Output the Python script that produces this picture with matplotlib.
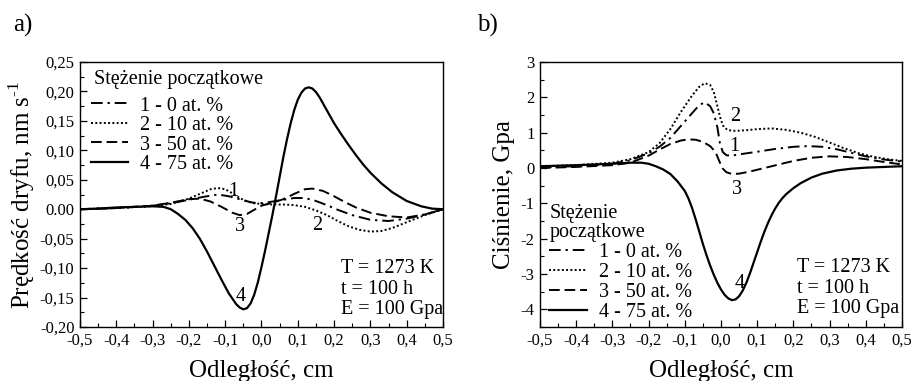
import matplotlib
matplotlib.use("Agg")
import matplotlib.pyplot as plt
from matplotlib.ticker import MultipleLocator

plt.rcParams['font.family'] = ['Liberation Serif', 'DejaVu Serif']
plt.rcParams['mathtext.fontset'] = 'custom'
plt.rcParams['mathtext.rm'] = 'Liberation Serif'

# ---------------- panel a) drift velocity, nm/s ----------------
xa1 = [-0.5, -0.4, -0.3, -0.25, -0.2, -0.16, -0.12, -0.09, -0.06, -0.03, -0.01,
       0.01, 0.03, 0.06, 0.09, 0.12, 0.15, 0.18, 0.21, 0.25, 0.3, 0.35, 0.4, 0.45, 0.5]
ya1 = [0.0, 0.002, 0.006, 0.010, 0.016, 0.021, 0.025, 0.022, 0.017, 0.012, 0.010,
       0.011, 0.013, 0.016, 0.019, 0.019, 0.014, 0.007, -0.001, -0.010, -0.018, -0.020, -0.016, -0.009, 0.0]

xa2 = [-0.5, -0.4, -0.3, -0.25, -0.2, -0.17, -0.14, -0.12, -0.1, -0.08, -0.06, -0.04, -0.02,
       0.0, 0.03, 0.06, 0.09, 0.12, 0.15, 0.18, 0.21, 0.24, 0.27, 0.3, 0.33, 0.36, 0.4, 0.45, 0.5]
ya2 = [0.0, 0.002, 0.005, 0.009, 0.018, 0.026, 0.034, 0.036, 0.034, 0.027, 0.019, 0.013, 0.010,
       0.009, 0.008, 0.008, 0.007, 0.004, -0.002, -0.010, -0.020, -0.029, -0.035, -0.038, -0.037,
       -0.032, -0.022, -0.010, 0.0]

xa3 = [-0.5, -0.4, -0.3, -0.25, -0.2, -0.17, -0.14, -0.11, -0.08, -0.06, -0.04, -0.02, 0.0,
       0.03, 0.06, 0.09, 0.12, 0.14, 0.17, 0.2, 0.23, 0.26, 0.3, 0.35, 0.4, 0.45, 0.5]
ya3 = [0.0, 0.002, 0.006, 0.011, 0.017, 0.018, 0.013, 0.004, -0.006, -0.010, -0.008, -0.001, 0.006,
       0.011, 0.017, 0.026, 0.034, 0.035, 0.031, 0.022, 0.012, 0.003, -0.006, -0.012, -0.014, -0.009, 0.0]

xa4 = [-0.5, -0.45, -0.4, -0.35, -0.3, -0.27, -0.25, -0.23, -0.21, -0.19, -0.17, -0.15, -0.13,
       -0.11, -0.09, -0.07, -0.06, -0.05, -0.04, -0.03, -0.02, -0.01, 0.0, 0.01, 0.02, 0.03, 0.04,
       0.05, 0.06, 0.07, 0.08, 0.09, 0.10, 0.11, 0.12, 0.13, 0.14, 0.15, 0.16, 0.18, 0.20, 0.22,
       0.24, 0.26, 0.28, 0.30, 0.33, 0.36, 0.40, 0.44, 0.47, 0.5]
ya4 = [0.0, 0.001, 0.003, 0.004, 0.005, 0.004, 0.0, -0.008, -0.018, -0.032, -0.050, -0.072, -0.096,
       -0.120, -0.143, -0.161, -0.167, -0.170, -0.168, -0.160, -0.145, -0.124, -0.098, -0.070, -0.040,
       -0.010, 0.022, 0.055, 0.088, 0.118, 0.145, 0.168, 0.186, 0.198, 0.205, 0.207, 0.205, 0.199,
       0.190, 0.168, 0.146, 0.127, 0.109, 0.092, 0.076, 0.062, 0.044, 0.029, 0.014, 0.005, 0.001, 0.0]

# ---------------- panel b) pressure, GPa ----------------
xb1 = [-0.5, -0.4, -0.3, -0.25, -0.2, -0.17, -0.14, -0.11, -0.08, -0.06, -0.045, -0.03, -0.02,
       -0.01, -0.003, 0.005, 0.015, 0.03, 0.06, 0.1, 0.15, 0.2, 0.24, 0.28, 0.32, 0.36, 0.4, 0.45, 0.5]
yb1 = [0.02, 0.05, 0.12, 0.22, 0.42, 0.60, 0.85, 1.20, 1.55, 1.78, 1.86, 1.75, 1.55,
       1.15, 0.70, 0.45, 0.36, 0.35, 0.40, 0.46, 0.54, 0.60, 0.62, 0.60, 0.53, 0.43, 0.33, 0.24, 0.18]

xb2 = [-0.5, -0.4, -0.3, -0.25, -0.2, -0.17, -0.14, -0.11, -0.08, -0.06, -0.045, -0.03, -0.02,
       -0.01, 0.0, 0.008, 0.02, 0.04, 0.07, 0.1, 0.14, 0.18, 0.22, 0.26, 0.3, 0.34, 0.38, 0.42, 0.46, 0.5]
yb2 = [0.05, 0.08, 0.15, 0.25, 0.45, 0.70, 1.10, 1.60, 2.05, 2.30, 2.40, 2.35, 2.15,
       1.75, 1.35, 1.15, 1.07, 1.05, 1.07, 1.10, 1.12, 1.08, 1.00, 0.88, 0.72, 0.56, 0.42, 0.32, 0.25, 0.20]

xb3 = [-0.5, -0.4, -0.3, -0.25, -0.2, -0.17, -0.14, -0.11, -0.09, -0.07, -0.05, -0.03, -0.015,
       -0.005, 0.005, 0.015, 0.03, 0.05, 0.08, 0.12, 0.16, 0.2, 0.25, 0.3, 0.35, 0.4, 0.45, 0.5]
yb3 = [0.0, 0.03, 0.08, 0.15, 0.35, 0.52, 0.68, 0.78, 0.81, 0.80, 0.74, 0.62, 0.45,
       0.20, -0.02, -0.12, -0.17, -0.16, -0.10, 0.0, 0.10, 0.20, 0.29, 0.33, 0.31, 0.25, 0.17, 0.10]

xb4 = [-0.5, -0.4, -0.3, -0.25, -0.22, -0.2, -0.18, -0.16, -0.14, -0.12, -0.1, -0.09, -0.08,
       -0.07, -0.06, -0.05, -0.04, -0.03, -0.02, -0.01, 0.0, 0.01, 0.02, 0.03, 0.04, 0.05, 0.06,
       0.07, 0.08, 0.09, 0.1, 0.11, 0.12, 0.13, 0.14, 0.15, 0.16, 0.17, 0.18, 0.2, 0.22, 0.25, 0.28,
       0.32, 0.36, 0.4, 0.45, 0.5]
yb4 = [0.05, 0.08, 0.12, 0.15, 0.15, 0.12, 0.05, -0.04, -0.17, -0.38, -0.65, -0.86, -1.13,
       -1.45, -1.80, -2.15, -2.47, -2.76, -3.02, -3.25, -3.44, -3.59, -3.69, -3.74, -3.72, -3.63, -3.47,
       -3.25, -2.98, -2.68, -2.38, -2.08, -1.80, -1.55, -1.33, -1.14, -0.98, -0.85, -0.74, -0.57, -0.43, -0.27,
       -0.16, -0.07, -0.02, 0.01, 0.03, 0.05]

legend_labels = ["1 - 0 at. %", "2 - 10 at. %", "3 - 50 at. %", "4 - 75 at. %"]
xticks = [-0.5, -0.4, -0.3, -0.2, -0.1, 0.0, 0.1, 0.2, 0.3, 0.4, 0.5]
xtick_labels = ["-0,5", "-0,4", "-0,3", "-0,2", "-0,1", "0,0", "0,1", "0,2", "0,3", "0,4", "0,5"]
yticks_a = [-0.20, -0.15, -0.10, -0.05, 0.0, 0.05, 0.10, 0.15, 0.20, 0.25]
ytick_labels_a = ["-0,20", "-0,15", "-0,10", "-0,05", "0.00", "0,05", "0,10", "0,15", "0,20", "0,25"]
yticks_b = [-4, -3, -2, -1, 0, 1, 2, 3]
ytick_labels_b = ["-4", "-3", "-2", "-1", "0", "1", "2", "3"]

styles = [
    dict(linestyle=(0, (6, 2.5, 1.2, 2.5)), color='black', lw=1.4),
    dict(linestyle=(0, (1, 1.2)), color='black', lw=1.4),
    dict(linestyle=(0, (5.5, 2.5)), color='black', lw=1.4),
    dict(linestyle='-', color='black', lw=1.6),
]

FS = 14.5

fig = plt.figure(figsize=(9.12, 3.81), dpi=100)
ax_a = fig.add_axes([80 / 912, 1 - 327 / 381, 363 / 912, 265 / 381])
ax_b = fig.add_axes([540 / 912, 1 - 327 / 381, 362 / 912, 265 / 381])


def style_axes(ax, yt, ytl, ylim, yminor):
    ax.set_xlim(-0.5, 0.5)
    ax.set_ylim(*ylim)
    ax.set_xticks(xticks)
    ax.set_xticklabels(xtick_labels)
    ax.set_yticks(yt)
    ax.set_yticklabels(ytl)
    ax.xaxis.set_minor_locator(MultipleLocator(0.05))
    ax.yaxis.set_minor_locator(MultipleLocator(yminor))
    ax.tick_params(which='both', direction='in', top=False, right=False, labelsize=12, pad=4)
    ax.tick_params(which='major', length=5, width=0.9)
    ax.tick_params(which='minor', length=3, width=0.8)
    for s in ax.spines.values():
        s.set_linewidth(1.0)


# panel a
for x, y, st, lab in zip([xa1, xa2, xa3, xa4], [ya1, ya2, ya3, ya4], styles, legend_labels):
    ax_a.plot(x, y, label=lab, **st)
style_axes(ax_a, yticks_a, ytick_labels_a, (-0.20, 0.25), 0.025)
ax_a.set_xlabel("Odległość, cm", fontsize=18, labelpad=8)
ax_a.set_ylabel("Prędkość dryfu, nm s$^{\\text{-1}}$", fontsize=18, labelpad=2)
ax_a.text(0.038, 0.935, "Stężenie początkowe", transform=ax_a.transAxes,
          fontsize=FS, ha='left', va='center')
leg_a = ax_a.legend(loc='upper left', bbox_to_anchor=(0.03, 0.87), frameon=False,
                    fontsize=FS, handlelength=1.85, handletextpad=0.6,
                    labelspacing=0.02, borderaxespad=0.0, borderpad=0.0)
for t, (tx, ty) in zip(["1", "2", "3", "4"],
                       [(-0.077, 0.030), (0.153, -0.027), (-0.059, -0.029), (-0.057, -0.148)]):
    ax_a.text(tx, ty, t, fontsize=FS, ha='center', va='center')
ax_a.text(0.22, -0.136, "T = 1273 K\nt = 100 h\nE = 100 Gpa", fontsize=FS,
          ha='left', va='center', linespacing=1.12)

# panel b
for x, y, st, lab in zip([xb1, xb2, xb3, xb4], [yb1, yb2, yb3, yb4], styles, legend_labels):
    ax_b.plot(x, y, label=lab, **st)
style_axes(ax_b, yticks_b, ytick_labels_b, (-4.5, 3.0), 0.5)
ax_b.set_xlabel("Odległość, cm", fontsize=18, labelpad=8)
ax_b.set_ylabel("Ciśnienie, Gpa", fontsize=18, labelpad=4)
leg_b = ax_b.legend(loc='lower left', bbox_to_anchor=(0.012, 0.0), title="Stężenie\npoczątkowe",
                    frameon=False, fontsize=FS, title_fontsize=FS, handlelength=1.85,
                    handletextpad=0.6, labelspacing=0.05, borderaxespad=0.05, borderpad=0.2)
leg_b._legend_box.align = "left"
leg_b.get_title().set_linespacing(1.0)
for t, (tx, ty) in zip(["2", "1", "3", "4"],
                       [(0.039, 1.45), (0.037, 0.61), (0.044, -0.61), (0.053, -3.27)]):
    ax_b.text(tx, ty, t, fontsize=FS, ha='center', va='center')
ax_b.text(0.21, -3.40, "T = 1273 K\nt = 100 h\nE = 100 Gpa", fontsize=FS,
          ha='left', va='center', linespacing=1.12)

fig.text(13 / 912, 1 - 25 / 381, "a)", fontsize=18, ha='left', va='center')
fig.text(477 / 912, 1 - 25 / 381, "b)", fontsize=18, ha='left', va='center')

fig.savefig("out.png", dpi=100)
